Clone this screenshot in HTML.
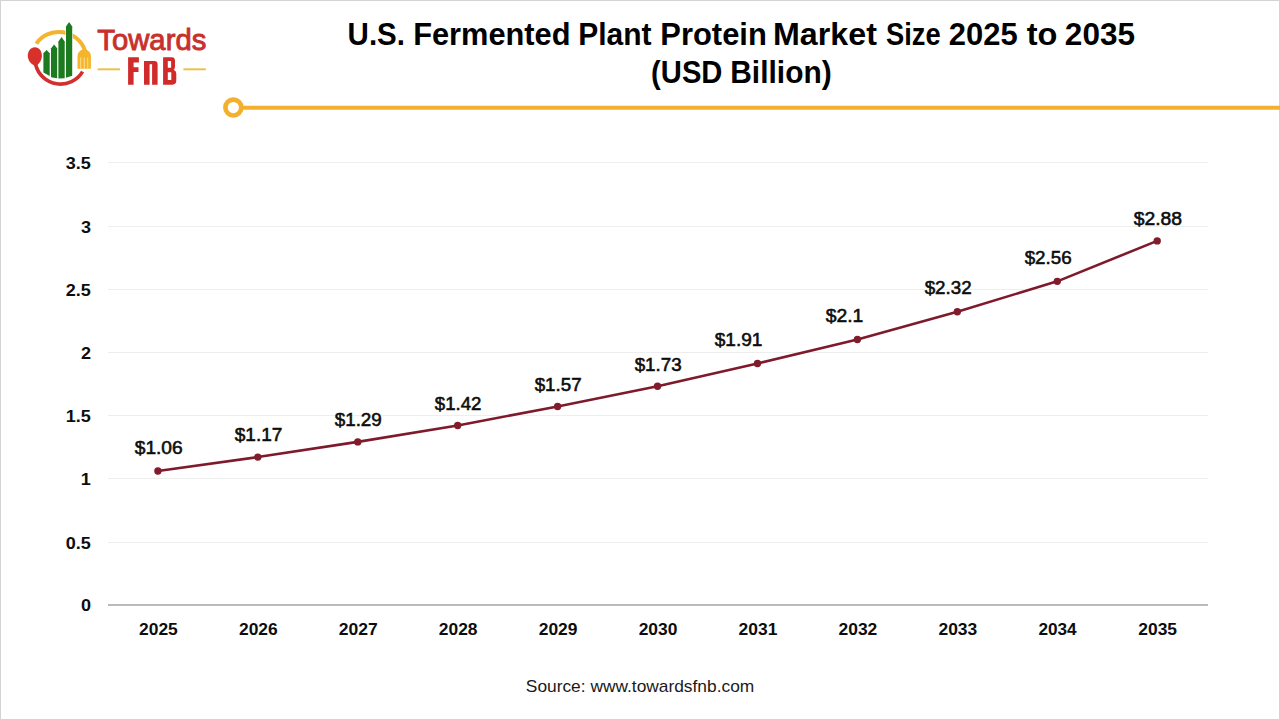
<!DOCTYPE html>
<html><head><meta charset="utf-8"><style>
html,body{margin:0;padding:0;background:#fff;overflow:hidden;}
svg{display:block;}
text{font-family:"Liberation Sans",sans-serif;}
</style></head><body>
<svg width="1280" height="720" viewBox="0 0 1280 720">
<rect x="0" y="0" width="1280" height="720" fill="#fff"/>
<rect x="0.5" y="0.5" width="1279" height="719" fill="none" stroke="#d3d3d3" stroke-width="1"/>
<g id="logo">
<path d="M36.3,43.6 A27.6,27.6 0 0 1 85.0,50.7" fill="none" stroke="#f3b52f" stroke-width="4"/>
<path d="M35.6,64.5 A25.7,25.7 0 0 0 82.6,71.6" fill="none" stroke="#d2302e" stroke-width="3.6"/>
<path d="M34.9,47.2 C39.2,47.2 41.9,51 41.9,55.8 C41.9,60.2 39.3,63.4 37.4,65 L35.2,66.2 L33.4,65 C30.6,63.4 27.8,60.2 27.8,55.8 C27.8,51 30.6,47.2 34.9,47.2 Z" fill="#d8302b"/>
<path d="M77.5,68.8 L77.5,56 C77.5,52.5 80.5,50.3 82.5,49.5 L85.5,49.3 C88,50.3 90.9,52.5 90.9,56 L90.9,68.8 Z" fill="#f5b52a"/>
<g fill="#fde3a0">
<rect x="80.3" y="57.5" width="0.9" height="11.4"/>
<rect x="83.8" y="57.5" width="0.9" height="11.4"/>
<rect x="87.3" y="57.5" width="0.9" height="11.4"/>
</g>
<g fill="#1c7a1f" stroke="#fff" stroke-width="1.1" paint-order="stroke" stroke-linejoin="round">
<path d="M43.4,72.5 L43.4,53.8 L42.9,53.8 L46.6,50 L50.2,53.8 L49.7,53.8 L49.7,76 Z"/>
<path d="M51,77.2 L51,49 L50.5,49 L54.1,44.4 L57.7,49 L57.2,49 L57.2,78.3 Z"/>
<path d="M58.4,78.5 L58.4,42.2 L57.9,42.2 L61.55,36.9 L65.2,42.2 L64.7,42.2 L64.7,78.2 Z"/>
<path d="M66,77.8 L66,27.2 L65.5,27.2 L69.1,21.9 L72.7,27.2 L72.2,27.2 L72.2,75.8 Z"/>
</g>
<rect x="97.6" y="68.3" width="22.4" height="2" fill="#ecc050"/>
<rect x="183.4" y="68.3" width="22.4" height="2" fill="#ecc050"/>
<g fill="#d12a2a" fill-rule="evenodd">
<path d="M128.1,57.2 H138.9 V62.6 H133.6 V67.2 H138.5 V72 H133.6 V84.7 H128.1 Z"/>
<path d="M144,61.1 H154.3 Q157.6,61.1 157.6,64.5 V84.7 H152.1 V64.3 H149.6 V84.7 H144 Z"/>
<path d="M163.1,57.3 H172 Q175,57.3 175,61 V66.5 Q175,69 173.6,69.7 Q176.3,70.6 176.3,73.6 V80.6 Q176.3,84.7 172.5,84.7 H163.1 Z M167.8,61.1 H171.1 V67.7 H167.8 Z M167.8,72.2 H171.3 V80 H167.8 Z"/>
</g>
</g>
<line x1="240" y1="107.7" x2="1280" y2="107.7" stroke="#f3b02e" stroke-width="4"/>
<circle cx="233.35" cy="107.55" r="7.95" fill="#fff" stroke="#f3b02e" stroke-width="4.7"/>
<rect x="108" y="542" width="1100" height="1" fill="#eeeeee"/>
<rect x="108" y="478" width="1100" height="1" fill="#eeeeee"/>
<rect x="108" y="415" width="1100" height="1" fill="#eeeeee"/>
<rect x="108" y="352" width="1100" height="1" fill="#eeeeee"/>
<rect x="108" y="289" width="1100" height="1" fill="#eeeeee"/>
<rect x="108" y="226" width="1100" height="1" fill="#eeeeee"/>
<rect x="108" y="162" width="1100" height="1" fill="#eeeeee"/>

<rect x="108" y="604" width="1100" height="2" fill="#bababa"/>
<polyline points="157.90,470.98 257.83,457.08 357.76,441.91 457.69,425.47 557.62,406.50 657.55,386.28 757.48,363.52 857.41,339.50 957.34,311.68 1057.27,281.34 1157.20,240.88" fill="none" stroke="#7e1a2b" stroke-width="2.6" stroke-linejoin="round"/>
<circle cx="157.90" cy="470.98" r="3.7" fill="#821c2d"/>
<circle cx="257.83" cy="457.08" r="3.7" fill="#821c2d"/>
<circle cx="357.76" cy="441.91" r="3.7" fill="#821c2d"/>
<circle cx="457.69" cy="425.47" r="3.7" fill="#821c2d"/>
<circle cx="557.62" cy="406.50" r="3.7" fill="#821c2d"/>
<circle cx="657.55" cy="386.28" r="3.7" fill="#821c2d"/>
<circle cx="757.48" cy="363.52" r="3.7" fill="#821c2d"/>
<circle cx="857.41" cy="339.50" r="3.7" fill="#821c2d"/>
<circle cx="957.34" cy="311.68" r="3.7" fill="#821c2d"/>
<circle cx="1057.27" cy="281.34" r="3.7" fill="#821c2d"/>
<circle cx="1157.20" cy="240.88" r="3.7" fill="#821c2d"/>

<text x="347.61" y="45.00" font-size="31.2" font-weight="bold" fill="#000" textLength="57.33" lengthAdjust="spacingAndGlyphs">U.S.</text>
<text x="413.13" y="45.00" font-size="31.2" font-weight="bold" fill="#000" textLength="157.45" lengthAdjust="spacingAndGlyphs">Fermented</text>
<text x="578.18" y="45.00" font-size="31.2" font-weight="bold" fill="#000" textLength="73.26" lengthAdjust="spacingAndGlyphs">Plant</text>
<text x="660.32" y="45.00" font-size="31.2" font-weight="bold" fill="#000" textLength="106.50" lengthAdjust="spacingAndGlyphs">Protein</text>
<text x="773.03" y="45.00" font-size="31.2" font-weight="bold" fill="#000" textLength="103.87" lengthAdjust="spacingAndGlyphs">Market</text>
<text x="885.92" y="45.00" font-size="31.2" font-weight="bold" fill="#000" textLength="54.69" lengthAdjust="spacingAndGlyphs">Size</text>
<text x="948.81" y="45.00" font-size="31.2" font-weight="bold" fill="#000" textLength="68.88" lengthAdjust="spacingAndGlyphs">2025</text>
<text x="1026.78" y="45.00" font-size="31.2" font-weight="bold" fill="#000" textLength="30.66" lengthAdjust="spacingAndGlyphs">to</text>
<text x="1064.89" y="45.00" font-size="31.2" font-weight="bold" fill="#000" textLength="70.11" lengthAdjust="spacingAndGlyphs">2035</text>
<text x="651.10" y="82.80" font-size="31.2" font-weight="bold" fill="#000" textLength="71.31" lengthAdjust="spacingAndGlyphs">(USD</text>
<text x="730.28" y="82.80" font-size="31.2" font-weight="bold" fill="#000" textLength="101.38" lengthAdjust="spacingAndGlyphs">Billion)</text>
<text x="134.75" y="454.40" font-size="17.6" font-weight="normal" fill="#0d0d0d" stroke="#0d0d0d" stroke-width="0.55" textLength="47.93" lengthAdjust="spacingAndGlyphs">$1.06</text>
<text x="234.70" y="440.80" font-size="17.6" font-weight="normal" fill="#0d0d0d" stroke="#0d0d0d" stroke-width="0.55" textLength="47.68" lengthAdjust="spacingAndGlyphs">$1.17</text>
<text x="334.70" y="425.70" font-size="17.6" font-weight="normal" fill="#0d0d0d" stroke="#0d0d0d" stroke-width="0.55" textLength="47.12" lengthAdjust="spacingAndGlyphs">$1.29</text>
<text x="434.80" y="409.60" font-size="17.6" font-weight="normal" fill="#0d0d0d" stroke="#0d0d0d" stroke-width="0.55" textLength="46.56" lengthAdjust="spacingAndGlyphs">$1.42</text>
<text x="534.70" y="390.80" font-size="17.6" font-weight="normal" fill="#0d0d0d" stroke="#0d0d0d" stroke-width="0.55" textLength="46.97" lengthAdjust="spacingAndGlyphs">$1.57</text>
<text x="634.70" y="370.80" font-size="17.6" font-weight="normal" fill="#0d0d0d" stroke="#0d0d0d" stroke-width="0.55" textLength="46.97" lengthAdjust="spacingAndGlyphs">$1.73</text>
<text x="714.70" y="345.80" font-size="17.6" font-weight="normal" fill="#0d0d0d" stroke="#0d0d0d" stroke-width="0.55" textLength="47.68" lengthAdjust="spacingAndGlyphs">$1.91</text>
<text x="825.80" y="321.90" font-size="17.6" font-weight="normal" fill="#0d0d0d" stroke="#0d0d0d" stroke-width="0.55" textLength="37.55" lengthAdjust="spacingAndGlyphs">$2.1</text>
<text x="924.70" y="294.00" font-size="17.6" font-weight="normal" fill="#0d0d0d" stroke="#0d0d0d" stroke-width="0.55" textLength="46.97" lengthAdjust="spacingAndGlyphs">$2.32</text>
<text x="1024.70" y="263.60" font-size="17.6" font-weight="normal" fill="#0d0d0d" stroke="#0d0d0d" stroke-width="0.55" textLength="46.97" lengthAdjust="spacingAndGlyphs">$2.56</text>
<text x="1133.75" y="224.90" font-size="17.6" font-weight="normal" fill="#0d0d0d" stroke="#0d0d0d" stroke-width="0.55" textLength="48.33" lengthAdjust="spacingAndGlyphs">$2.88</text>
<text x="139.04" y="634.90" font-size="17" font-weight="bold" fill="#0d0d0d" textLength="38.70" lengthAdjust="spacingAndGlyphs">2025</text>
<text x="238.97" y="634.90" font-size="17" font-weight="bold" fill="#0d0d0d" textLength="38.70" lengthAdjust="spacingAndGlyphs">2026</text>
<text x="338.89" y="634.90" font-size="17" font-weight="bold" fill="#0d0d0d" textLength="38.97" lengthAdjust="spacingAndGlyphs">2027</text>
<text x="438.83" y="634.90" font-size="17" font-weight="bold" fill="#0d0d0d" textLength="38.70" lengthAdjust="spacingAndGlyphs">2028</text>
<text x="538.76" y="634.90" font-size="17" font-weight="bold" fill="#0d0d0d" textLength="38.70" lengthAdjust="spacingAndGlyphs">2029</text>
<text x="638.69" y="634.90" font-size="17" font-weight="bold" fill="#0d0d0d" textLength="38.70" lengthAdjust="spacingAndGlyphs">2030</text>
<text x="738.62" y="634.90" font-size="17" font-weight="bold" fill="#0d0d0d" textLength="38.70" lengthAdjust="spacingAndGlyphs">2031</text>
<text x="838.55" y="634.90" font-size="17" font-weight="bold" fill="#0d0d0d" textLength="38.70" lengthAdjust="spacingAndGlyphs">2032</text>
<text x="938.48" y="634.90" font-size="17" font-weight="bold" fill="#0d0d0d" textLength="38.70" lengthAdjust="spacingAndGlyphs">2033</text>
<text x="1038.42" y="634.90" font-size="17" font-weight="bold" fill="#0d0d0d" textLength="38.18" lengthAdjust="spacingAndGlyphs">2034</text>
<text x="1138.34" y="634.90" font-size="17" font-weight="bold" fill="#0d0d0d" textLength="38.70" lengthAdjust="spacingAndGlyphs">2035</text>
<text x="81.02" y="611.40" font-size="17" font-weight="bold" fill="#0d0d0d" textLength="10.04" lengthAdjust="spacingAndGlyphs">0</text>
<text x="65.66" y="548.90" font-size="17" font-weight="bold" fill="#0d0d0d" textLength="25.06" lengthAdjust="spacingAndGlyphs">0.5</text>
<text x="80.76" y="484.90" font-size="17" font-weight="bold" fill="#0d0d0d" textLength="10.04" lengthAdjust="spacingAndGlyphs">1</text>
<text x="65.66" y="421.90" font-size="17" font-weight="bold" fill="#0d0d0d" textLength="25.06" lengthAdjust="spacingAndGlyphs">1.5</text>
<text x="81.02" y="358.90" font-size="17" font-weight="bold" fill="#0d0d0d" textLength="10.04" lengthAdjust="spacingAndGlyphs">2</text>
<text x="65.66" y="295.90" font-size="17" font-weight="bold" fill="#0d0d0d" textLength="25.06" lengthAdjust="spacingAndGlyphs">2.5</text>
<text x="81.02" y="232.90" font-size="17" font-weight="bold" fill="#0d0d0d" textLength="10.04" lengthAdjust="spacingAndGlyphs">3</text>
<text x="65.66" y="168.90" font-size="17" font-weight="bold" fill="#0d0d0d" textLength="25.06" lengthAdjust="spacingAndGlyphs">3.5</text>
<text x="525.82" y="691.90" font-size="16.6" font-weight="normal" fill="#1a1a1a" textLength="228.41" lengthAdjust="spacingAndGlyphs">Source: www.towardsfnb.com</text>
<text x="97.35" y="49.50" font-size="29" font-weight="normal" fill="#c9302c" stroke="#c9302c" stroke-width="0.9" textLength="108.96" lengthAdjust="spacingAndGlyphs">Towards</text>
</svg>
</body></html>
